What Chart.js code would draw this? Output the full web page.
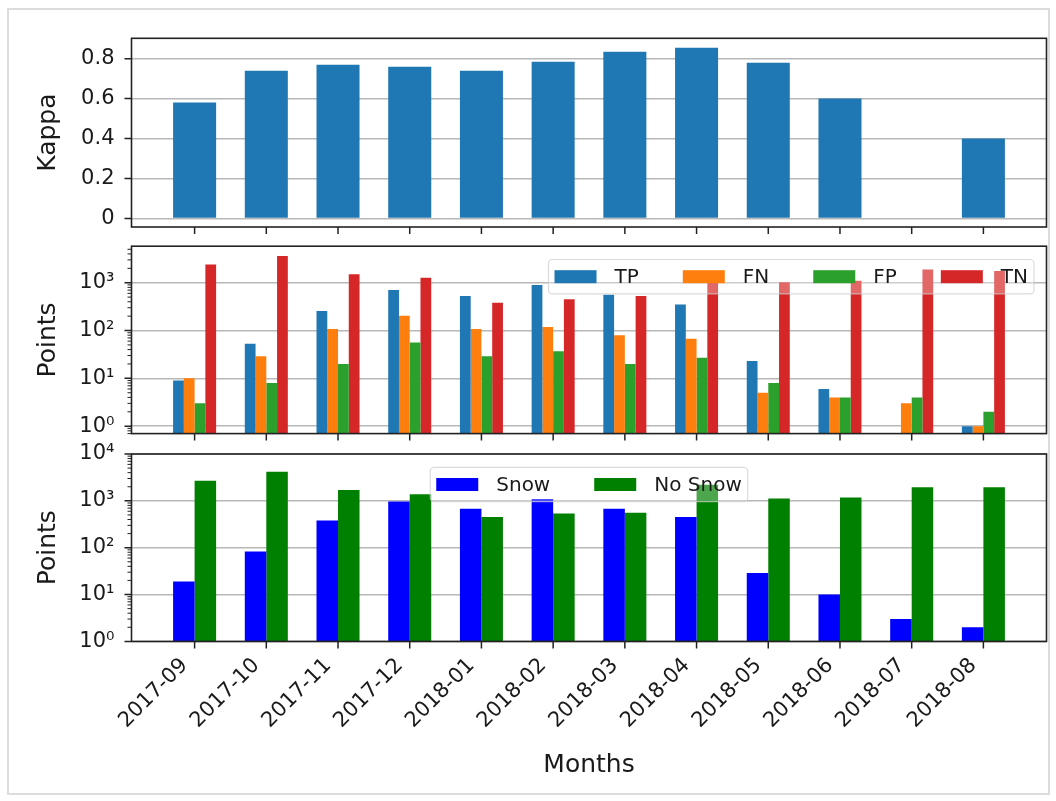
<!DOCTYPE html>
<html>
<head>
<meta charset="utf-8">
<script src="https://cdn.jsdelivr.net/npm/chart.js@4.4.0/dist/chart.umd.min.js"></script>
<style>
  body { margin: 0; background: #fff; width: 1056px; height: 801px; position: relative; overflow: hidden; }
  #frame { position: absolute; left: 7px; top: 8px; width: 1039px; height: 783px; border: 2px solid #dcdcdc; }
  canvas { position: absolute; left: 0; }
</style>
</head>
<body>
<div id="frame"></div>
<canvas id="kappaChart" width="1056" height="245" style="top:0px"></canvas>
<canvas id="confChart" width="1056" height="225" style="top:225px"></canvas>
<canvas id="snowChart" width="1056" height="371" style="top:430px"></canvas>
<script>
// months on the x axis
const months = ['2017-09', '2017-10', '2017-11', '2017-12', '2018-01', '2018-02',
                '2018-03', '2018-04', '2018-05', '2018-06', '2018-07', '2018-08'];

// top panel
const kappa = [0.58, 0.74, 0.77, 0.76, 0.74, 0.785, 0.835, 0.855, 0.78, 0.60, null, 0.40];
const kappaTicks = [0, 0.2, 0.4, 0.6, 0.8];
const kappaTickLabels = ['0', '0.2', '0.4', '0.6', '0.8'];

// middle panel (log)
const tp = [9, 53, 255, 700, 530, 900, 560, 350, 23, 6, null, 1];
const fn = [10, 29, 108, 205, 108, 118, 80, 67, 5, 4, 3, 1];
const fp = [3, 8, 20, 56, 29, 37, 20, 27, 8, 4, 4, 2];
const tn = [2400, 3600, 1500, 1270, 380, 450, 530, 1100, 1020, 1100, 1900, 1750];
const midTicks = [1, 10, 100, 1000];
const midTickLabels = ['10⁰', '10¹', '10²', '10³'];

// bottom panel (log)
const snow = [19, 83, 380, 970, 680, 1090, 680, 450, 29, 10, 3, 2];
const noSnow = [2700, 4200, 1700, 1390, 450, 535, 560, 2200, 1120, 1180, 1950, 1950];
const botTicks = [1, 10, 100, 1000, 10000];
const botTickLabels = ['10⁰', '10¹', '10²', '10³', '10⁴'];

Chart.defaults.font.family = '"DejaVu Sans", sans-serif';
Chart.defaults.color = '#1a1a1a';
Chart.defaults.animation = false;

const toXY = arr => arr.map((v, i) => ({ x: i, y: v }));

// spines + tick marks drawn from the scales
const frameTicks = {
    id: 'frameTicks',
    afterDraw(chart) {
        const { ctx, chartArea: a, scales: { x, y } } = chart;
        ctx.save();
        ctx.strokeStyle = '#222';
        ctx.lineWidth = 1.5;
        ctx.beginPath();
        x.ticks.forEach(t => {
            const px = x.getPixelForValue(t.value);
            ctx.moveTo(px, a.bottom); ctx.lineTo(px, a.bottom + 7);
        });
        y.ticks.forEach(t => {
            const py = y.getPixelForValue(t.value);
            ctx.moveTo(a.left - 7, py); ctx.lineTo(a.left, py);
        });
        ctx.stroke();
        if (y.type === 'logarithmic') {
            ctx.lineWidth = 1;
            ctx.beginPath();
            for (let k = -1; k <= 4; k++) {
                for (let m = 2; m <= 9; m++) {
                    const v = m * Math.pow(10, k);
                    if (v <= y.min || v >= y.max) continue;
                    const py = y.getPixelForValue(v);
                    ctx.moveTo(a.left - 4, py); ctx.lineTo(a.left, py);
                }
            }
            ctx.stroke();
        }
        ctx.lineWidth = 1.6;
        ctx.strokeRect(a.left, a.top, a.right - a.left, a.bottom - a.top);
        ctx.restore();
    }
};

// matplotlib-like legend box inside the plot
const boxLegend = {
    id: 'boxLegend',
    afterDatasetsDraw(chart, args, opts) {
        if (!opts.where) return;
        const ctx = chart.ctx, a = chart.chartArea;
        ctx.save();
        ctx.font = '20px "DejaVu Sans"';
        const items = chart.data.datasets.map(d => ({ label: d.label, color: d.backgroundColor, w: ctx.measureText(d.label).width }));
        const padX = 6, patchW = 42, patchH = 13, gap = 18, colGap = 44, h = 34.4;
        const width = 2 * padX + items.reduce((s, it) => s + patchW + gap + it.w, 0) + colGap * (items.length - 1);
        const x0 = opts.where === 'right' ? a.right - 12.5 - width : (a.left + a.right) / 2 - width / 2;
        const y0 = a.top + 13.3;
        ctx.beginPath();
        if (ctx.roundRect) ctx.roundRect(x0, y0, width, h, 4); else ctx.rect(x0, y0, width, h);
        ctx.fillStyle = 'rgba(255,255,255,0.3)';
        ctx.fill();
        ctx.strokeStyle = 'rgba(204,204,204,0.7)';
        ctx.lineWidth = 1.2;
        ctx.stroke();
        let x = x0 + padX;
        const cy = y0 + h / 2;
        items.forEach(it => {
            ctx.fillStyle = it.color;
            ctx.fillRect(x, cy - patchH / 2, patchW, patchH);
            x += patchW + gap;
            ctx.fillStyle = '#1a1a1a';
            ctx.textBaseline = 'middle';
            ctx.fillText(it.label, x, cy + 1);
            x += it.w + colGap;
        });
        ctx.restore();
    }
};

Chart.register(frameTicks, boxLegend);

function xAxis(height, showLabels) {
    return {
        type: 'linear', min: -0.88, max: 11.88, offset: false,
        afterBuildTicks: s => { s.ticks = months.map((m, i) => ({ value: i })); },
        afterFit: s => { s.height = height; s.paddingLeft = 0; s.paddingRight = 0; },
        grid: { drawOnChartArea: false, drawTicks: false, offset: false },
        border: { display: false },
        ticks: {
            display: showLabels, autoSkip: false, minRotation: 45, maxRotation: 45,
            padding: 12, labelOffset: -10, font: { size: 21 },
            callback: v => months[v]
        },
        title: { display: showLabels, text: 'Months', font: { size: 25 }, padding: { top: 0, bottom: 0 } }
    };
}

function yAxis(type, min, max, ticks, labels, title) {
    return {
        type: type, min: min, max: max,
        afterBuildTicks: s => { s.ticks = ticks.map(v => ({ value: v, major: true })); },
        // fixed axis width, and no extra room for half labels at the ends
        afterFit: s => { s.width = 131.5; s.paddingTop = 0; s.paddingBottom = 0; },
        grid: { color: '#b8b8b8', lineWidth: 1.4, drawTicks: false },
        border: { display: false },
        ticks: { padding: 17, font: { size: 21 }, callback: (v, i) => labels[i] },
        title: { display: true, text: title, font: { size: 25 }, padding: { top: 33, bottom: 0 } }
    };
}

function barSet(label, data, color) {
    return {
        label: label, data: toXY(data), backgroundColor: color, borderWidth: 0,
        categoryPercentage: 0.6, barPercentage: 1.0
    };
}

new Chart(document.getElementById('kappaChart'), {
    type: 'bar',
    data: { datasets: [barSet('Kappa', kappa, '#1f77b4')] },
    options: {
        responsive: false,
        layout: { padding: { left: 0, right: 9.5, top: 38.3, bottom: 0 } },
        plugins: { legend: { display: false }, tooltip: { enabled: false }, boxLegend: { where: null } },
        scales: {
            x: xAxis(18, false),
            y: yAxis('linear', -0.043, 0.902, kappaTicks, kappaTickLabels, 'Kappa')
        }
    }
});

new Chart(document.getElementById('confChart'), {
    type: 'bar',
    data: {
        datasets: [
            barSet('TP', tp, '#1f77b4'),
            barSet('FN', fn, '#ff7f0e'),
            barSet('FP', fp, '#2ca02c'),
            barSet('TN', tn, '#d62728')
        ]
    },
    options: {
        responsive: false,
        layout: { padding: { left: 0, right: 9.5, top: 21.2, bottom: 0 } },
        plugins: { legend: { display: false }, tooltip: { enabled: false }, boxLegend: { where: 'right' } },
        scales: {
            x: xAxis(16.4, false),
            y: yAxis('logarithmic', 0.7, 5800, midTicks, midTickLabels, 'Points')
        }
    }
});

new Chart(document.getElementById('snowChart'), {
    type: 'bar',
    data: {
        datasets: [
            barSet('Snow', snow, '#0000ff'),
            barSet('No Snow', noSnow, '#008000')
        ]
    },
    options: {
        responsive: false,
        layout: { padding: { left: 0, right: 9.5, top: 24, bottom: 21 } },
        plugins: { legend: { display: false }, tooltip: { enabled: false }, boxLegend: { where: 'center' } },
        scales: {
            x: xAxis(138.6, true),
            y: yAxis('logarithmic', 1, 10000, botTicks, botTickLabels, 'Points')
        }
    }
});
</script>
</body>
</html>
